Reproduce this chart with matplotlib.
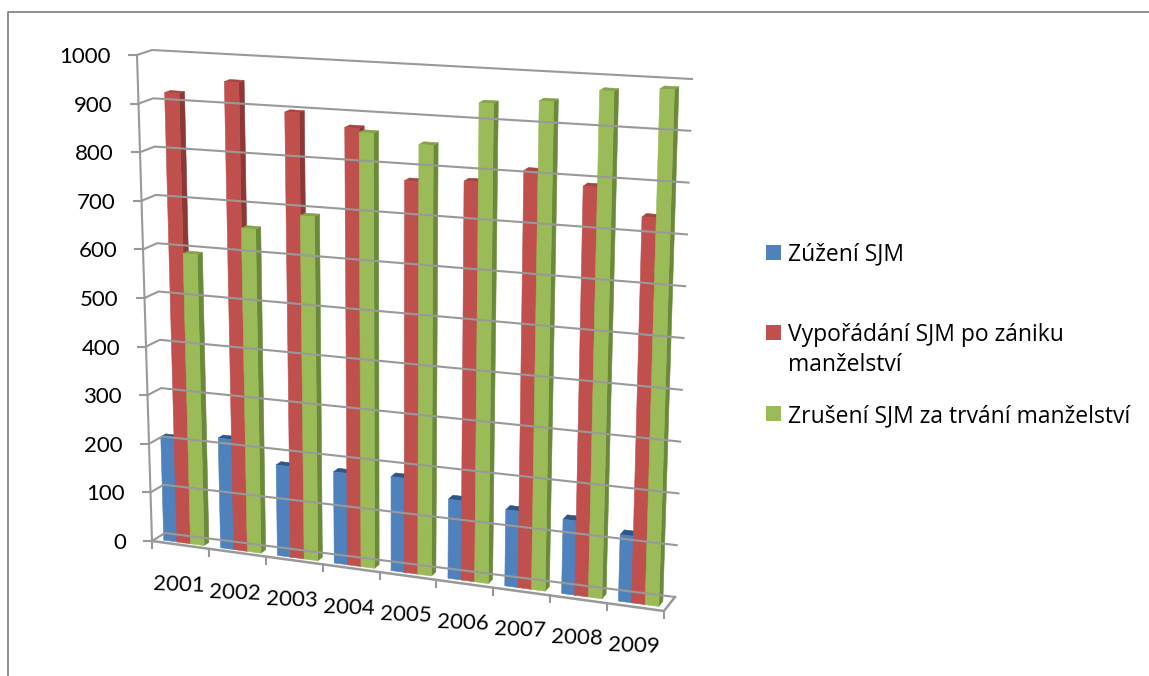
import numpy as np
from matplotlib import pyplot as plt
from matplotlib.patches import Polygon, Rectangle

years = ['2001', '2002', '2003', '2004', '2005', '2006', '2007', '2008', '2009']
zuzeni = [213, 224, 183, 183, 187, 156, 149, 144, 128]
vyporadani = [923, 953, 899, 876, 778, 786, 815, 793, 742]
zruseni = [595, 657, 692, 868, 852, 942, 953, 980, 990]
value_ticks = [0, 100, 200, 300, 400, 500, 600, 700, 800, 900, 1000]
legend_labels = ['Zúžení SJM', 'Vypořádání SJM po zániku\nmanželství', 'Zrušení SJM za trvání manželství']

plt.rcParams['font.family'] = ['Lato', 'DejaVu Sans']

# corners of the 3d box in picture pixels, (category, value, depth) -> pixel
CORNERS = {
    (0, 0, 0): (152, 541), (1, 0, 0): (664, 611),
    (0, 1, 0): (137, 55), (1, 1, 0): (680, 87),
    (0, 0, 1): (165, 533), (1, 0, 1): (675, 597),
    (0, 1, 1): (152, 50), (1, 1, 1): (692, 79),
}


def project(cat, val, depth):
    # trilinear blend of the box corners, close enough to excel's perspective
    u, v, d = cat / len(years), val / 1000, depth
    x, y = 0, 0
    for (a, b, c), (px, py) in CORNERS.items():
        w = (u if a else 1 - u) * (v if b else 1 - v) * (d if c else 1 - d)
        x += w * px
        y += w * py
    return x, y


def draw_bar(ax, cat0, cat1, value, front, side, top):
    d0, d1 = 0.25, 0.62
    ax.add_patch(Polygon([project(cat1, 0, d0), project(cat1, 0, d1), project(cat1, value, d1), project(cat1, value, d0)],
                         facecolor=side, edgecolor=side, lw=0.4))
    ax.add_patch(Polygon([project(cat0, value, d0), project(cat1, value, d0), project(cat1, value, d1), project(cat0, value, d1)],
                         facecolor=top, edgecolor=top, lw=0.4))
    ax.add_patch(Polygon([project(cat0, 0, d0), project(cat1, 0, d0), project(cat1, value, d0), project(cat0, value, d0)],
                         facecolor=front, edgecolor=front, lw=0.4))


fig = plt.figure(figsize=(11.49, 6.76), dpi=100)
ax = fig.add_axes([0, 0, 1, 1])
ax.set_xlim(0, 1149)
ax.set_ylim(676, 0)
ax.axis('off')

# chart area border, only top and left show in the crop
ax.plot([8, 8, 1149], [676, 12, 12], color='#868686', lw=1.3)

grid = '#999999'
n = len(years)
for val in value_ticks:
    # back wall, side wall, tick on the value axis
    xs, ys = zip(project(0, val, 0), project(0, val, 1), project(n, val, 1))
    ax.plot(xs, ys, color=grid, lw=1.5)
    x0, y0 = project(0, val, 0)
    ax.plot([x0 - 8, x0], [y0, y0], color=grid, lw=1.5)
    ax.text(x0 - 26, y0 + 2, str(val), ha='right', va='center', fontsize=16, color='black')

# value axis and floor
xs, ys = zip(project(0, 0, 0), project(0, 1000, 0))
ax.plot(xs, ys, color=grid, lw=1.5)
xs, ys = zip(project(0, 0, 0), project(n, 0, 0), project(n, 0, 1))
ax.plot(xs, ys, color=grid, lw=1.8)

for i in range(n + 1):
    x0, y0 = project(i, 0, 0)
    ax.plot([x0, x0], [y0, y0 + 7], color=grid, lw=1.5)

series = [
    (zuzeni, '#4f81bd', '#3a6596', '#2f5785', 0.15, 0.40),
    (vyporadani, '#c0504d', '#8c3836', '#a84543', 0.38, 0.62),
    (zruseni, '#9bbb59', '#6a8a39', '#86a34a', 0.62, 0.86),
]
for i in range(n):
    for values, front, side, top, c0, c1 in series:
        draw_bar(ax, i + c0, i + c1, values[i], front, side, top)

for i, year in enumerate(years):
    x0, y0 = project(i + 0.5, 0, 0)
    ax.text(x0 - 2, y0 + 40 - i * 0.2, year, ha='center', va='center', fontsize=16, color='black', rotation=-2)

# legend
swatch_y = [245, 325, 406]
label_y = [254, 350, 416]
for lab, sy, ly, s in zip(legend_labels, swatch_y, label_y, series):
    ax.add_patch(Rectangle((766, sy), 15, 15, facecolor=s[1], edgecolor='none'))
    ax.text(788, ly, lab, ha='left', va='center', fontsize=16.5, color='black', linespacing=1.3, family=['Open Sans', 'DejaVu Sans'])

fig.savefig('out.png', dpi=100)
